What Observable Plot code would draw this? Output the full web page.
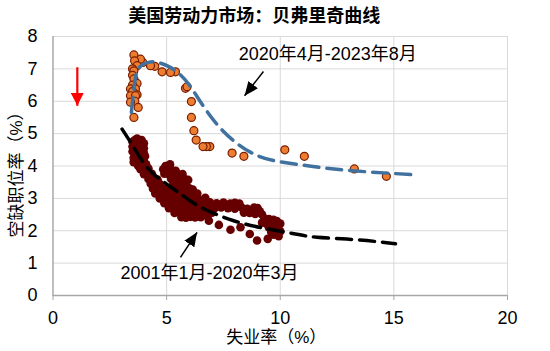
<!DOCTYPE html>
<html><head><meta charset="utf-8">
<script src="https://cdn.jsdelivr.net/npm/d3@7"></script>
<script src="https://cdn.jsdelivr.net/npm/@observablehq/plot@0.6"></script>
<style>body{margin:0;background:#fff}</style>
</head><body><div id="chart"></div>
<script>
const title = "美国劳动力市场：贝弗里奇曲线";
const xLabel = "失业率（%）";
const yLabel = "空缺职位率（%）";
const xTicks = [0, 5, 10, 15, 20];
const yTicks = [0, 1, 2, 3, 4, 5, 6, 7, 8];

// 2001年1月-2020年3月 : [unemployment, vacancy rate]
const preCovid = [
  [3.5,4.75],[3.6,4.8],[3.7,4.85],[3.8,4.75],[3.9,4.8],[4.0,4.7],
  [3.5,4.6],[3.6,4.55],[3.7,4.65],[3.8,4.6],[3.9,4.55],[4.0,4.55],
  [3.5,4.45],[3.6,4.4],[3.7,4.35],[3.8,4.45],[3.9,4.4],[4.0,4.4],
  [3.55,4.25],[3.65,4.2],[3.75,4.25],[3.85,4.3],[3.95,4.25],[4.05,4.3],
  [3.55,4.12],[3.7,4.08],[4.0,4.15],
  [3.75,4.0],[3.95,4.02],[4.1,4.05],[4.95,4.0],[5.15,4.05],
  [3.85,3.9],[4.05,3.88],[4.2,3.92],[4.85,3.9],[5.0,3.92],[5.2,3.88],[5.4,3.85],
  [4.0,3.75],[4.15,3.73],[4.35,3.76],[4.9,3.76],[5.1,3.74],[5.3,3.77],[5.5,3.72],[5.7,3.75],
  [4.2,3.6],[4.4,3.62],[4.6,3.58],[5.2,3.6],[5.4,3.63],[5.6,3.58],[5.8,3.6],[5.95,3.57],
  [4.3,3.45],[4.5,3.47],[4.7,3.44],[5.3,3.46],[5.5,3.43],[5.7,3.47],[5.85,3.44],
  [4.4,3.3],[4.6,3.32],[4.8,3.28],[5.0,3.31],[5.2,3.29],[5.4,3.32],[5.6,3.28],[5.8,3.3],[6.0,3.31],[6.15,3.27],
  [4.5,3.15],[4.7,3.17],[4.9,3.13],[5.1,3.16],[5.3,3.14],[5.5,3.17],[5.7,3.13],[5.9,3.16],[6.1,3.14],[6.35,3.15],
  [4.7,3.0],[4.9,3.02],[5.1,2.98],[5.3,3.01],[5.5,2.99],[5.7,3.02],[5.9,2.98],[6.15,3.01],[6.4,2.99],[6.7,3.02],
  [4.9,2.85],[5.1,2.87],[5.3,2.83],[5.5,2.86],[5.75,2.84],[6.0,2.87],[6.3,2.83],[6.6,2.86],[6.9,2.88],[7.2,2.85],[7.5,2.87],[7.8,2.84],[8.0,2.86],[8.2,2.84],[8.85,2.72],[9.0,2.7],
  [5.1,2.7],[5.3,2.72],[5.5,2.68],[5.7,2.71],[5.95,2.69],[6.2,2.72],[6.5,2.68],[6.8,2.71],[7.1,2.69],[7.4,2.72],[7.7,2.7],[8.0,2.68],[8.3,2.72],[8.55,2.68],[9.1,2.6],
  [5.35,2.55],[5.55,2.57],[5.75,2.53],[6.0,2.56],[6.25,2.54],[6.5,2.57],[6.75,2.53],[7.0,2.56],[8.4,2.56],[8.65,2.55],[8.9,2.52],[9.2,2.5],
  [5.65,2.42],[5.85,2.4],[6.05,2.43],[6.25,2.41],[6.5,2.42],[6.8,2.44],[9.3,2.38],[9.5,2.36],[9.7,2.34],[9.85,2.3],
  [9.2,2.25],[9.4,2.22],[9.6,2.24],[9.8,2.2],[10.0,2.22],
  [9.5,2.1],[9.7,2.08],[9.9,2.1],
  [9.6,1.96],[9.8,1.94],[10.0,1.98],
  [6.86,2.31],[7.3,2.18],[7.81,2.03],[8.25,2.11],[8.66,1.9],[8.98,1.7],[9.45,1.75],[9.71,1.88],[9.93,1.83]
];

// 2020年4月-2023年8月
const postCovid = [
  [14.67,3.68],[13.26,3.91],[11.06,4.3],[10.2,4.5],[8.4,4.3],[7.88,4.4],
  [6.9,4.6],[6.75,4.6],[6.6,4.6],[6.3,4.8],[6.2,5.09],[6.09,5.5],[6.09,5.99],
  [5.83,6.4],[5.9,6.45],[5.39,6.91],[5.17,6.89],[4.8,6.91],[4.48,7.08],[4.29,7.1],
  [3.95,7.2],[3.85,7.3],[3.56,7.43],[3.59,7.25],[3.7,7.1],[3.5,7.0],[3.56,6.94],
  [3.5,6.8],[3.56,6.69],[3.7,6.55],[3.5,6.5],[3.41,6.38],[3.63,6.38],[3.5,6.3],
  [3.7,6.2],[3.41,6.17],[3.63,6.17],[3.6,6.0],[3.41,5.97],[3.75,5.81],[3.56,5.5]
];

const fitPre = [[3.04,5.14],[3.55,4.58],[4.14,3.96],[4.88,3.5],[5.61,3.14],[6.49,2.73],[7.95,2.31],[9.42,2.06],[10.67,1.9],[11.62,1.8],[13.38,1.72],[15.07,1.6]];
const fitPost = [[3.45,5.66],[3.6,6.6],[3.8,7.05],[4.2,7.2],[4.6,7.2],[5.1,7.07],[5.55,6.85],[6.0,6.5],[6.5,5.97],[7.2,5.3],[7.95,4.78],[8.7,4.42],[9.7,4.17],[11.2,4.01],[12.9,3.87],[15.9,3.73]];

const notes = [
  {x: 8.17, y: 7.44, text: "2020年4月-2023年8月"},
  {x: 2.97, y: 0.68, text: "2001年1月-2020年3月"}
];
const blackArrows = [
  {x1: 9.26, y1: 6.92, x2: 8.43, y2: 6.17},
  {x1: 5.61, y1: 1.18, x2: 6.34, y2: 1.95}
];
const redArrows = [{x1: 1.07, y1: 7.05, x2: 1.07, y2: 5.86}];

function headMarker(len, wid) {
  return (color) => {
    const m = d3.create("svg:marker")
      .attr("viewBox", `${-len} ${-wid/2} ${len} ${wid}`)
      .attr("refX", 0).attr("refY", 0)
      .attr("markerUnits", "userSpaceOnUse")
      .attr("markerWidth", len).attr("markerHeight", wid)
      .attr("orient", "auto")
      .attr("fill", color).attr("stroke", "none");
    m.append("path").attr("d", `M${-len},${-wid/2}L0,0L${-len},${wid/2}Z`);
    return m.node();
  };
}

const cjk = "'Liberation Sans', 'Noto Sans CJK SC', sans-serif";

const chart = Plot.plot({
  width: 550, height: 351,
  marginLeft: 52.5, marginRight: 43, marginTop: 36, marginBottom: 56,
  x: {domain: [0, 20]},
  y: {domain: [0, 8]},
  style: {fontFamily: "'Liberation Sans', Arial, sans-serif", fontSize: "18px", color: "#000", background: "#fff"},
  marks: [
    Plot.gridX(xTicks, {stroke: "#d9d9d9", strokeOpacity: 1}),
    Plot.gridY(yTicks, {stroke: "#d9d9d9", strokeOpacity: 1}),
    Plot.ruleX([0], {stroke: "#a6a6a6", strokeWidth: 1.3}),
    Plot.ruleY([0], {stroke: "#a6a6a6", strokeWidth: 1.3}),
    Plot.axisX(xTicks, {tickSize: 5, tickPadding: 11, stroke: "#a6a6a6", label: null, fontSize: 18}),
    Plot.axisY(yTicks, {tickSize: 0, tickPadding: 15.5, label: null, fontSize: 18}),
    Plot.dot(preCovid, {x: d => d[0], y: d => d[1], r: 4.3, fill: "#660000"}),
    Plot.line(fitPre, {x: d => d[0], y: d => d[1], stroke: "#000", strokeWidth: 3.5, strokeDasharray: "15,8", curve: "natural"}),
    Plot.dot(postCovid, {x: d => d[0], y: d => d[1], r: 4, fill: "#ED7D31", stroke: "#7a1f00", strokeWidth: 1.2}),
    Plot.line(fitPost, {x: d => d[0], y: d => d[1], stroke: "#41729f", strokeWidth: 3.5, strokeDasharray: "15,8", curve: "natural"}),
    Plot.link(blackArrows, {x1: "x1", y1: "y1", x2: "x2", y2: "y2", stroke: "#000", strokeWidth: 1.5, markerEnd: headMarker(14, 12)}),
    Plot.link(redArrows, {x1: "x1", y1: "y1", x2: "x2", y2: "y2", stroke: "#ff0000", strokeWidth: 2.2, markerEnd: headMarker(13, 13)}),
    Plot.text(notes, {x: "x", y: "y", text: "text", textAnchor: "start", lineAnchor: "middle", fontSize: 18, fontFamily: cjk, fill: "#000"}),
    Plot.text([title], {frameAnchor: "top", lineAnchor: "middle", textAnchor: "middle", dy: -20, dx: -26, fontSize: 18, fontWeight: "bold", fontFamily: "'Noto Sans CJK SC', sans-serif", fill: "#000"}),
    Plot.text([xLabel], {frameAnchor: "bottom", lineAnchor: "middle", textAnchor: "middle", dy: 42, dx: -4, fontSize: 17, fontFamily: cjk, fill: "#000"}),
    Plot.text([yLabel], {frameAnchor: "left", lineAnchor: "middle", textAnchor: "middle", dx: -36, dy: 4.5, rotate: -90, fontSize: 17, fontFamily: cjk, fill: "#000"})
  ]
});
document.getElementById("chart").appendChild(chart);
</script>
</body></html>
